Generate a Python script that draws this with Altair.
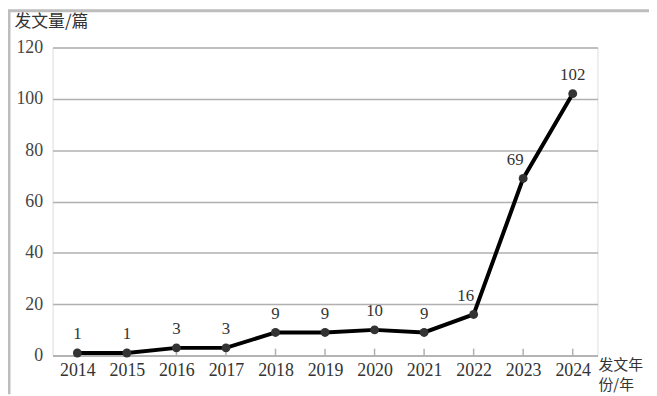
import altair as alt
import pandas as pd

years = ["2014", "2015", "2016", "2017", "2018", "2019", "2020", "2021", "2022", "2023", "2024"]
counts = [1, 1, 3, 3, 9, 9, 10, 9, 16, 69, 102]
shifted_labels = ["2022", "2023"]
x_title_lines = ["发文年", "份/年"]

df = pd.DataFrame({"year": years, "count": counts})
one = pd.DataFrame({"k": [0]})

NUM_FONT = "Liberation Serif"
CJK_FONT = "Noto Sans CJK SC"
W, H = 550, 311

x = alt.X("year:O", scale=alt.Scale(type="point", padding=0.5),
          axis=alt.Axis(title=None,
                        labelAngle=0, labelFont=NUM_FONT, labelFontSize=18, labelColor="#333",
                        labelPadding=6, ticks=False, domainColor="#b0b0b0", domainWidth=1.5,
                        grid=False))
y = alt.Y("count:Q", scale=alt.Scale(domain=[0, 120], nice=False),
          axis=alt.Axis(values=[0, 20, 40, 60, 80, 100, 120], title="发文量/篇",
                        titleAngle=0, titleAlign="left", titleBaseline="middle",
                        titleX=-39, titleY=-26, titleFont=CJK_FONT, titleFontSize=17,
                        titleFontWeight="normal", titleColor="#333",
                        labelFont=NUM_FONT, labelFontSize=18, labelColor="#444", labelPadding=10,
                        ticks=False, domain=False, gridColor="#b0b0b0", gridWidth=1.5))

base = alt.Chart(df)

ticks = base.mark_rule(color="#b0b0b0", strokeWidth=1.5).encode(
    x=alt.X("year:O", scale=alt.Scale(type="point", padding=0.5)),
    y=alt.value(H - 7), y2=alt.value(H))

line = base.mark_line(color="black", strokeWidth=4).encode(x=x, y=y)
pts = base.mark_circle(color="#333", size=80, opacity=1).encode(x="year:O", y="count:Q")

labels = base.transform_filter(
    ~alt.FieldOneOfPredicate(field="year", oneOf=shifted_labels)
).mark_text(dy=-19, font=NUM_FONT, fontSize=17, color="#333").encode(
    x="year:O", y="count:Q", text="count:Q")
labels2 = base.transform_filter(
    alt.FieldOneOfPredicate(field="year", oneOf=shifted_labels)
).mark_text(dy=-19, dx=-8, font=NUM_FONT, fontSize=17, color="#333").encode(
    x="year:O", y="count:Q", text="count:Q")

single = alt.Chart(one)
xt1 = single.mark_text(align="left", baseline="middle", font=CJK_FONT, fontSize=15,
                       color="#333", clip=False).encode(
    x=alt.value(W + 1), y=alt.value(H + 10), text=alt.value(x_title_lines[0]))
xt2 = single.mark_text(align="left", baseline="middle", font=CJK_FONT, fontSize=15,
                       color="#333", clip=False).encode(
    x=alt.value(W + 1), y=alt.value(H + 30), text=alt.value(x_title_lines[1]))

border_top = single.mark_rule(color="#bdbdbd", strokeWidth=3, clip=False).encode(
    x=alt.value(-45), x2=alt.value(W + 52), y=alt.value(-37))
border_left = single.mark_rule(color="#bdbdbd", strokeWidth=3, clip=False).encode(
    x=alt.value(-44), y=alt.value(-38), y2=alt.value(H + 39))

chart = alt.layer(line, ticks, pts, labels, labels2, xt1, xt2, border_top, border_left).properties(
    width=W, height=H,
    autosize=alt.AutoSizeParams(type="none"),
    padding={"left": 45, "top": 38, "right": 52, "bottom": 39},
).configure_view(stroke=None).configure(background="white")

chart.save("out.html", embed_options={"renderer": "svg", "actions": False})
